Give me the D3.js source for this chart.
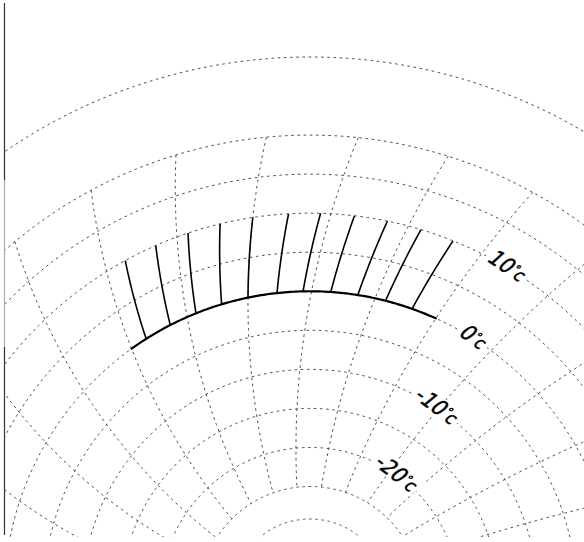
<!DOCTYPE html>
<html><head><meta charset="utf-8">
<script src="https://cdn.jsdelivr.net/npm/d3@7"></script>
<style>html,body{margin:0;padding:0;background:#fff;} svg{display:block;}</style>
</head><body>
<script>
// ---------- data ----------
const isothermTemps = [30, 20, 15, 10, 5, 0, -5, -10, -15, -20, -25, -30];   // dotted circles (°C)
const spokeBearings = [-71.7, -59.7, -47.7, -35.7, -23.7, -11.7, 0.3, 12.3, 24.3, 36.3, 48.3, 60.3, 72.3]; // dotted spokes, bearing (deg) at 0°C
const spokeTemps = [20, -25];                     // spokes run between these isotherms
const markBearings = [-32.4, -27.2, -21.9, -16.8, -11.7, -6.2, -1.3, 3.9, 9.0, 14.3, 19.5]; // solid strokes, bearing at 0°C
const markStart = [0, 0, 0, 0, 0, 0, 0, 0, 0, 0, 0];
const markEnd   = [10, 10, 10, 10, 10, 10, 10, 10, 10, 10, 10];
const baseArcBearings = [-35.7, 24.3];            // solid 0°C arc extent
const baseArcTemp = 0;
const labelTemps = [10, 0, -10, -20];
const labelTexts = ["10", "0", "-10", "-20"];

// ---------- layout ----------
const W = 584, H = 542, CX = 310, CY = 597;
const svg = d3.select("body").append("svg").attr("width", W).attr("height", H);
svg.append("rect").attr("width", W).attr("height", H).attr("fill", "#fff");

const rScale = d3.scaleLinear().domain([-30, -25, 30]).range([78, 110.5, 540]);
const twist = d3.scaleLinear().domain([-90, 90]).range([0.285 + 0.216, 0.285 - 0.216]); // deg of turn per °C
const bearingAt = (a, t) => a + t * twist(a);
const rad = d => d * Math.PI / 180;
const labelBearing = d3.scaleLinear().domain([-20, 10]).range([35.0, 30.8]);

svg.append("clipPath").attr("id", "clip").append("rect")
  .attr("x", 5).attr("y", 0).attr("width", W - 5).attr("height", 537);

const g = svg.append("g").attr("clip-path", "url(#clip)")
  .append("g").attr("transform", `translate(${CX},${CY})`);

const dotted = sel => sel.attr("fill", "none").attr("stroke", "#3a3a3a")
  .attr("stroke-width", 0.9).attr("stroke-dasharray", "2.6,3.6");

// isotherm circles
const arcLine = d3.lineRadial().angle(d => rad(d[0])).radius(d => d[1]);
isothermTemps.forEach(t => {
  const pts = d3.range(-110, 110.01, 0.5).map(b => [b, rScale(t)]);
  g.append("path").attr("d", arcLine(pts)).call(dotted);
});

// spokes
const spokeLine = d3.lineRadial().angle(d => rad(d[0])).radius(d => d[1]);
spokeBearings.forEach(a => {
  const ts = d3.range(spokeTemps[0], spokeTemps[1] - 0.01, -0.5);
  const pts = ts.map(t => [bearingAt(a, t), rScale(t)]);
  g.append("path").attr("d", spokeLine(pts)).call(dotted);
});

// solid 0°C arc
{
  const pts = d3.range(baseArcBearings[0], baseArcBearings[1] + 0.01, 0.5).map(b => [b, rScale(baseArcTemp)]);
  g.append("path").attr("d", arcLine(pts)).attr("fill", "none")
    .attr("stroke", "#000").attr("stroke-width", 2.2).attr("stroke-linecap", "round");
}

// solid strokes 0 -> 10 °C
markBearings.forEach((a, i) => {
  const ts = d3.range(markStart[i], markEnd[i] + 0.01, 0.5);
  const pts = ts.map(t => [bearingAt(a, t), rScale(t)]);
  g.append("path").attr("d", spokeLine(pts)).attr("fill", "none")
    .attr("stroke", "#000").attr("stroke-width", 1.6);
});

// labels
labelTemps.forEach((t, i) => {
  const b = labelBearing(t), r = rScale(t);
  const x = r * Math.sin(rad(b)), y = -r * Math.cos(rad(b));
  const lg = g.append("g").attr("transform", `translate(${x},${y}) rotate(${b + 3}) skewX(-14)`);
  const bg = lg.append("rect").attr("fill", "#fff");
  const tx = lg.append("text").attr("text-anchor", "middle").attr("dy", "0.36em")
    .attr("font-family", "'Liberation Sans Narrow','DejaVu Sans Condensed',sans-serif")
    .attr("fill", "#000").attr("stroke", "#000").attr("stroke-width", 0.45);
  tx.append("tspan").attr("font-size", 22).text(labelTexts[i]);
  tx.append("tspan").attr("font-size", 12).attr("dy", -6).text("°");
  tx.append("tspan").attr("font-size", 18).attr("dy", 6).text("c");
  const bb = tx.node().getBBox();
  bg.attr("x", bb.x - 3).attr("y", bb.y + 3).attr("width", bb.width + 6).attr("height", bb.height - 6);
});

// left frame line
const frame = [[3, 180, "#333"], [180, 347, "#aaa"], [347, 535, "#333"]];
frame.forEach(f => svg.append("line").attr("x1", 4.5).attr("x2", 4.5).attr("y1", f[0]).attr("y2", f[1])
  .attr("stroke", f[2]).attr("stroke-width", 1.2));
</script>
</body></html>
